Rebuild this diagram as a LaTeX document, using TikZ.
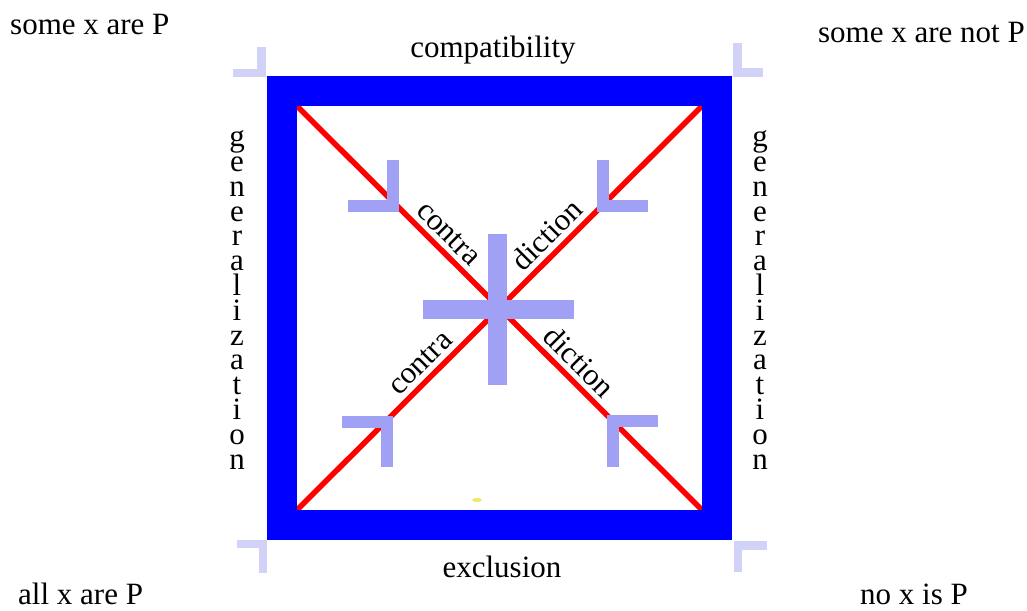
\documentclass[tikz,border=0pt]{standalone}
\usepackage{fontspec}
\setmainfont{Liberation Serif}

\begin{document}
\begin{tikzpicture}[x=1pt,y=-1pt]

\definecolor{lila}{RGB}{160,160,245}
\definecolor{blasslila}{RGB}{210,210,248}
\definecolor{gelb}{RGB}{240,235,90}

\tikzset{
  txt/.style={font=\fontsize{31}{24.8}\selectfont, inner sep=0pt, text=black},
  haken/.style={line width=12pt, lila, line cap=butt, line join=miter},
  eckhaken/.style={line width=8.5pt, blasslila, line cap=butt, line join=miter}
}

\useasboundingbox (0,0) rectangle (1027,610);

% inner corners of the square
\coordinate (ol) at (297,106);
\coordinate (or) at (702,106);
\coordinate (ul) at (297,510);
\coordinate (ur) at (702,510);

% diagonals
\draw[red, line width=5.5pt] (ol) -- node[txt,sloped,above=5pt,pos=0.345] (contraO) {contra}
                                  node[txt,sloped,above=5pt,pos=0.665] (dictionU) {diction} (ur);
\draw[red, line width=5.5pt] (ul) -- node[txt,sloped,above=5pt,pos=0.334] (contraU) {contra}
                                  node[txt,sloped,above=5pt,pos=0.649] (dictionO) {diction} (or);

% square
\draw[blue, line width=30pt] (282,91) rectangle (717,525);

% cross in the middle
\fill[lila] (488,234) rectangle (507,385);
\fill[lila] (423,300) rectangle (574,319);

% inner hooks
\draw[haken] (393,160) -- (393,206) -- (348,206);
\draw[haken] (603,160) -- (603,206) -- (648,206);
\draw[haken] (342,422) -- (387,422) -- (387,467);
\draw[haken] (658,421) -- (613,421) -- (613,467);

% outer hooks
\draw[eckhaken] (261.5,47) -- (261.5,73) -- (233,73);
\draw[eckhaken] (737.5,43) -- (737.5,72.5) -- (763,72.5);
\draw[eckhaken] (237,544) -- (263,544) -- (263,573);
\draw[eckhaken] (767,545.5) -- (738,545.5) -- (738,572);

\fill[gelb] (477,500) ellipse [x radius=5, y radius=2];

% texts
\node[txt, anchor=base west] (einigeP)    at (10,35)   {some x are P};
\node[txt, anchor=base east] (einigeNP)   at (1025,42) {some x are not P};
\node[txt, anchor=base west] (alleP)      at (18,604)  {all x are P};
\node[txt, anchor=base east] (keinP)      at (968,604) {no x is P};
\node[txt, anchor=base]      (kompat)     at (493,57)  {compatibility};
\node[txt, anchor=base]      (exkl)       at (502,577) {exclusion};

\node[txt, align=center] (genL) at (237,300) {g\\e\\n\\e\\r\\a\\l\\i\\z\\a\\t\\i\\o\\n};
\node[txt, align=center] (genR) at (760,300) {g\\e\\n\\e\\r\\a\\l\\i\\z\\a\\t\\i\\o\\n};

\end{tikzpicture}
\end{document}
